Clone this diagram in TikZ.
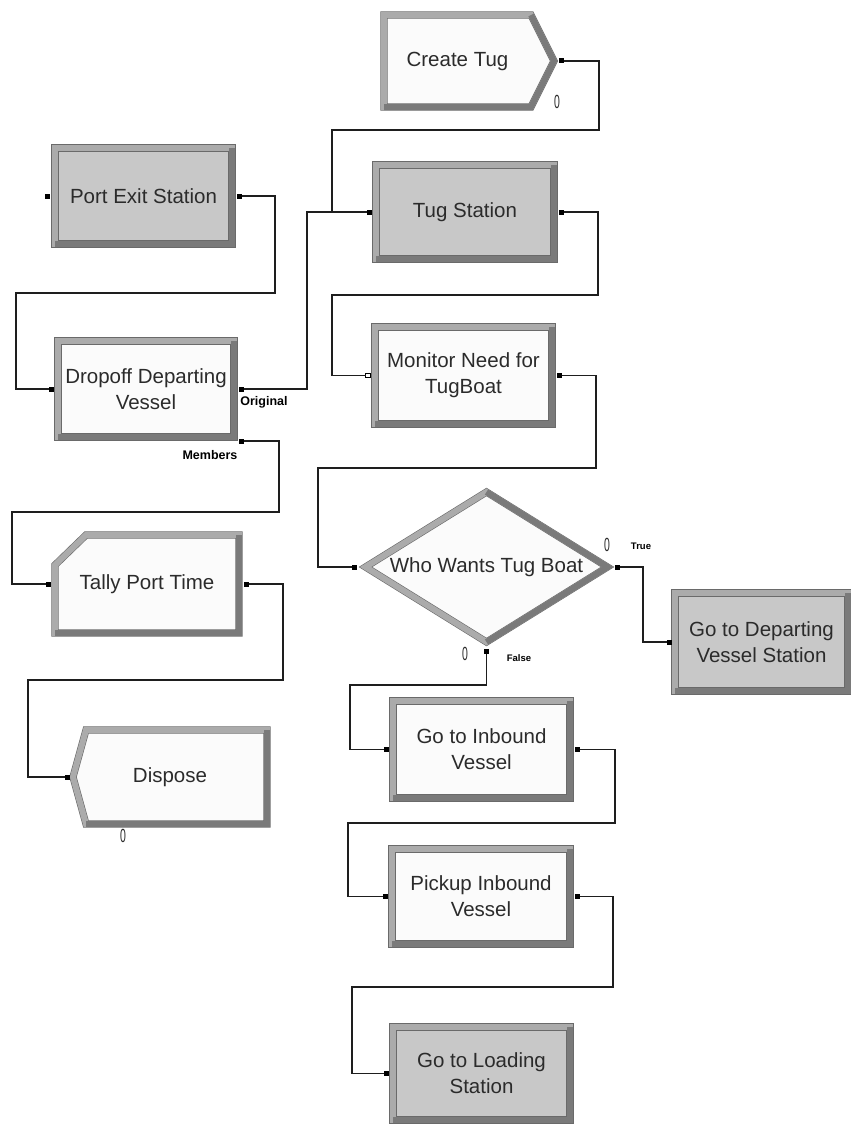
\documentclass[tikz,border=0pt]{standalone}
\usepackage{fontspec}
\setmainfont{Liberation Sans}
\usetikzlibrary{shapes.geometric,calc,backgrounds}

\definecolor{frameedge}{HTML}{6A6A6A}
\definecolor{bandlight}{HTML}{ABABAB}
\definecolor{banddark}{HTML}{7A7A7A}
\definecolor{facegray}{HTML}{C8C8C8}
\definecolor{facewhite}{HTML}{FBFBFB}
\definecolor{labeltext}{HTML}{2B2B2B}
\definecolor{wirecolor}{HTML}{1E1E1E}

\newcommand\modfont{\fontsize{20.5}{26}\selectfont}
\newcommand\tagfont{\fontsize{12.5}{14}\selectfont\bfseries}
\newcommand\smalltagfont{\fontsize{9.5}{11}\selectfont\bfseries}
\newcommand\counterfont{\fontsize{19}{19}\selectfont}
\newcommand\countzero{\scalebox{0.55}[1]{0}}

\tikzset{
  frame/.style={draw=frameedge, double=bandlight, double distance=6pt, line width=0.6pt, line join=miter},
  shade edge/.style={draw=banddark, line width=6pt, line join=miter},
  module/.style={rectangle, frame, outer sep=0pt, inner sep=0pt, align=center, text=labeltext, font=\modfont},
  bodytext/.style={rectangle, outer sep=0pt, inner sep=0pt, align=center, text=labeltext, font=\modfont},
  port/.style={rectangle, fill=black, minimum size=5pt, inner sep=0pt, outer sep=0pt},
  openport/.style={rectangle, fill=white, draw=black, line width=0.8pt, minimum size=4.5pt, inner sep=0pt, outer sep=0pt},
  wire/.style={draw=wirecolor, line width=1.1pt},
  tag/.style={font=\tagfont, text=black, inner sep=0pt},
  counter/.style={font=\counterfont, text=labeltext, inner sep=0pt},
}

\begin{document}
\begin{tikzpicture}[x=1pt,y=-1pt]
\useasboundingbox (0,0) rectangle (851,1124);

% ---- rectangular modules ----
\node[module, fill=facegray, minimum width=177pt, minimum height=96pt] (portexit) at (143.5,196) {Port Exit Station};
\node[module, fill=facewhite, minimum width=176pt, minimum height=96pt] (dropoff) at (146,389) {Dropoff Departing\\Vessel};
\node[module, fill=facegray, minimum width=178pt, minimum height=94pt] (tug) at (465,212) {Tug Station};
\node[module, fill=facewhite, minimum width=177pt, minimum height=97pt] (monitor) at (463.5,375.5) {Monitor Need for\\TugBoat};
\node[module, fill=facegray, minimum width=173pt, minimum height=98pt] (departing) at (761.5,642) {Go to Departing\\Vessel Station};
\node[module, fill=facewhite, minimum width=177pt, minimum height=97pt] (inbound) at (481.5,749.5) {Go to Inbound\\Vessel};
\node[module, fill=facewhite, minimum width=178pt, minimum height=95pt] (pickup) at (481,896.5) {Pickup Inbound\\Vessel};
\node[module, fill=facegray, minimum width=177pt, minimum height=93pt] (loading) at (481.5,1073.5) {Go to Loading\\Station};

\foreach \n in {portexit,dropoff,tug,monitor,departing,inbound,pickup,loading}
  \draw[shade edge] (\n.north east) -- (\n.south east) -- (\n.south west);

% ---- decision ----
\node[diamond, frame, outer sep=0pt, inner sep=0pt, aspect=1.63,
      minimum width=242pt, minimum height=150pt, fill=facewhite,
      text=labeltext, font=\modfont] (who) at (486.5,567) {Who Wants Tug Boat};
\draw[shade edge] (who.north) -- (who.east) -- (who.south);

% ---- create, record and dispose modules (outlines behind their text) ----
\node[bodytext, minimum width=147pt, minimum height=92pt] (create) at (457.5,61) {Create Tug};
\node[bodytext, minimum width=184pt, minimum height=98pt] (tally) at (147,584) {Tally Port Time};
\node[bodytext, minimum width=194pt, minimum height=94pt] (dispose) at (170,777) {Dispose};

\begin{scope}[on background layer]
  \path[frame, fill=facewhite] (create.north west) -- (create.north east)
       -- ($(create.east)+(23,0)$) -- (create.south east) -- (create.south west) -- cycle;
  \draw[shade edge] (create.north east) -- ($(create.east)+(23,0)$)
       -- (create.south east) -- (create.south west);

  \path[frame, fill=facewhite] (tally.south west) -- ($(tally.north west)+(0,30)$)
       -- ($(tally.north west)+(31,0)$) -- (tally.north east) -- (tally.south east) -- cycle;
  \draw[shade edge] (tally.north east) -- (tally.south east) -- (tally.south west);

  \path[frame, fill=facewhite] (dispose.west) -- ($(dispose.north west)+(13,0)$)
       -- (dispose.north east) -- (dispose.south east) -- ($(dispose.south west)+(13,0)$) -- cycle;
  \draw[shade edge] (dispose.north east) -- (dispose.south east) -- ($(dispose.south west)+(13,0)$);
\end{scope}

% ---- entry and exit points ----
\node[port] (pe-in)  at ($(portexit.west)+(-8,0)$) {};
\node[port] (pe-out) at ($(portexit.east)+(7,0)$) {};
\node[port] (do-in)  at ($(dropoff.west)+(-7,0)$) {};
\node[port] (do-orig) at ($(dropoff.east)+(7,0)$) {};
\node[port] (do-mem) at ($(dropoff.south east)+(7,4)$) {};
\node[port] (ta-in)  at ($(tally.west)+(-7,0)$) {};
\node[port] (ta-out) at ($(tally.east)+(7,0)$) {};
\node[port] (di-in)  at ($(dispose.west)+(-6,0)$) {};
\node[port] (cr-out) at ($(create.east)+(30,0)$) {};
\node[port] (tu-in)  at ($(tug.west)+(-7,0)$) {};
\node[port] (tu-out) at ($(tug.east)+(7,0)$) {};
\node[openport] (mo-in) at ($(monitor.west)+(-7,0)$) {};
\node[port] (mo-out) at ($(monitor.east)+(7,0)$) {};
\node[port] (wh-in)  at ($(who.west)+(-11,0)$) {};
\node[port] (wh-true) at ($(who.east)+(10,0)$) {};
\node[port] (wh-false) at ($(who.south)+(0,9)$) {};
\node[port] (de-in)  at ($(departing.west)+(-6,0)$) {};
\node[port] (ib-in)  at ($(inbound.west)+(-7,0)$) {};
\node[port] (ib-out) at ($(inbound.east)+(7,0)$) {};
\node[port] (pk-in)  at ($(pickup.west)+(-7,0)$) {};
\node[port] (pk-out) at ($(pickup.east)+(7,0)$) {};
\node[port] (lo-in)  at ($(loading.west)+(-7,0)$) {};

% ---- connections ----
\draw[wire] (cr-out) -| (599,130) -- (332,130) |- (tu-in);
\draw[wire] (do-orig) -- (307,389) |- (tu-in);
\draw[wire] (pe-out) -| (275,293) -- (16,293) |- (do-in);
\draw[wire] (do-mem) -| (279,512) -- (12,512) |- (ta-in);
\draw[wire] (ta-out) -| (283,680) -- (28,680) |- (di-in);
\draw[wire] (tu-out) -| (598,295) -- (332,295) |- (mo-in);
\draw[wire] (mo-out) -| (596,468) -- (318,468) |- (wh-in);
\draw[wire] (wh-true) -- (643,567) |- (de-in);
\draw[wire] (wh-false) |- (350,685) |- (ib-in);
\draw[wire] (ib-out) -| (615,823) -- (348,823) |- (pk-in);
\draw[wire] (pk-out) -| (613,987) -- (352,987) |- (lo-in);

% ---- exit labels ----
\node[tag] (t-orig) at (264,402) {Original};
\node[tag] (t-mem)  at (210,455) {Members};
\node[tag, font=\smalltagfont] (t-true)  at (641,546) {True};
\node[tag, font=\smalltagfont] (t-false) at (519,658) {False};

% ---- entity counters ----
\node[counter] (c-create)  at (557,102) {\countzero};
\node[counter] (c-true)    at (607,545) {\countzero};
\node[counter] (c-false)   at (465,654) {\countzero};
\node[counter] (c-dispose) at (123,836) {\countzero};
\end{tikzpicture}
\end{document}
